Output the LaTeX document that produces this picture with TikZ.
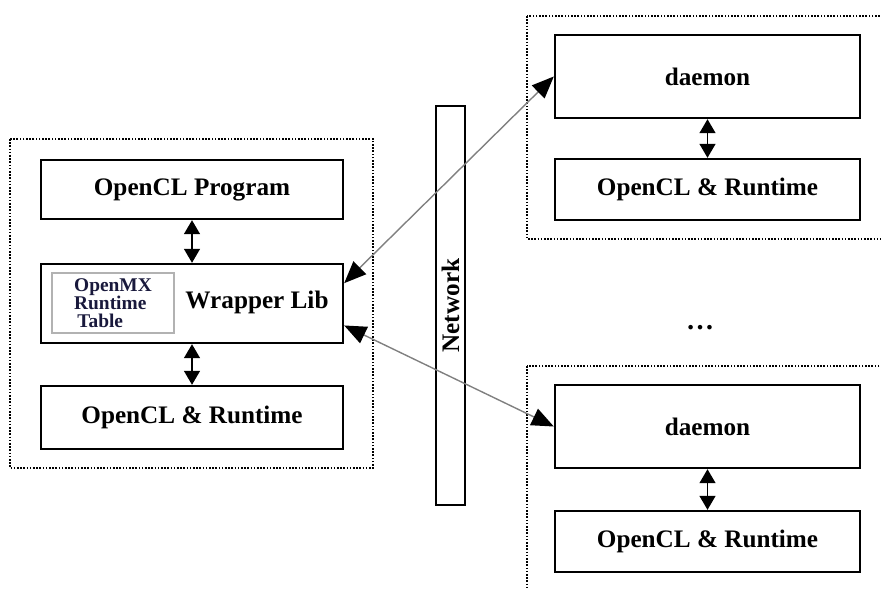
\documentclass[tikz,border=0pt]{standalone}
\usepackage{fontspec}
\setmainfont{Liberation Serif}
\usepackage{tikz}
\usetikzlibrary{calc, arrows.meta, positioning}
\usepackage{xcolor}
\definecolor{tabink}{RGB}{25,25,60}

\begin{document}
\begin{tikzpicture}[x=0.5pt, y=-0.5pt,
    box/.style={draw, line width=1.2pt, inner sep=0pt, font=\fontsize{12.6}{14}\selectfont\bfseries},
    grp/.style={line width=0.9pt, dash pattern=on 0.8pt off 0.8pt},
    link/.style={gray, line width=0.7pt, {Triangle[black,length=11pt,width=9pt]}-{Triangle[black,length=11pt,width=9pt]}},
    updown/.style={line width=0.7pt, {Triangle[length=7pt,width=8pt]}-{Triangle[length=7pt,width=8pt]}}]
    \useasboundingbox (0,0) rectangle (881,588);
    \draw[grp] (10,139) rectangle (373,468);
    \draw[grp] (527,16) rectangle (890,239);
    \draw[grp] (527,366) rectangle (890,600);
    \node[box, minimum width=151pt, minimum height=29.5pt] (prog) at (192,189.5) {OpenCL Program};
    \node[box, minimum width=151pt, minimum height=39.5pt] (wrap) at (192,303.5) {};
    \node[box, minimum width=151pt, minimum height=31.5pt] (lrt) at (192,417.5) {OpenCL \& Runtime};
    \node[draw=gray!60, line width=0.8pt, minimum width=61pt, minimum height=30pt, inner sep=0pt,
          align=left, text=tabink, font=\fontsize{9.7}{9}\selectfont\bfseries] (tab) at (113,303)
          {OpenMX\\Runtime\\\,Table};
    \node[font=\fontsize{12.6}{14}\selectfont\bfseries] (wlib) at (257,302) {Wrapper Lib};
    \node[box, line width=0.7pt, rotate=90, minimum width=199.5pt, minimum height=14.5pt] (net) at (450.5,305.5) {Network};
    \node[box, minimum width=152.5pt, minimum height=41.5pt] (d1) at (707.5,76.5) {daemon};
    \node[box, minimum width=152.5pt, minimum height=30.5pt] (r1) at (707.5,189.5) {OpenCL \& Runtime};
    \node[box, minimum width=152.5pt, minimum height=41.5pt] (d2) at (707.5,426.5) {daemon};
    \node[box, minimum width=152.5pt, minimum height=30.5pt] (r2) at (707.5,541.5) {OpenCL \& Runtime};
    \node[font=\fontsize{14}{14}\selectfont\bfseries] (more) at (700,328) {\dots};
    \draw[updown] (prog) -- (wrap);
    \draw[updown] (wrap) -- (lrt);
    \draw[updown] (d1) -- (r1);
    \draw[updown] (d2) -- (r2);
    \draw[link] ($(wrap.north east)!0.25!(wrap.south east)$) -- (d1.west);
    \draw[link] ($(wrap.north east)!0.77!(wrap.south east)$) -- (d2.west);
  \end{tikzpicture}
\end{document}
